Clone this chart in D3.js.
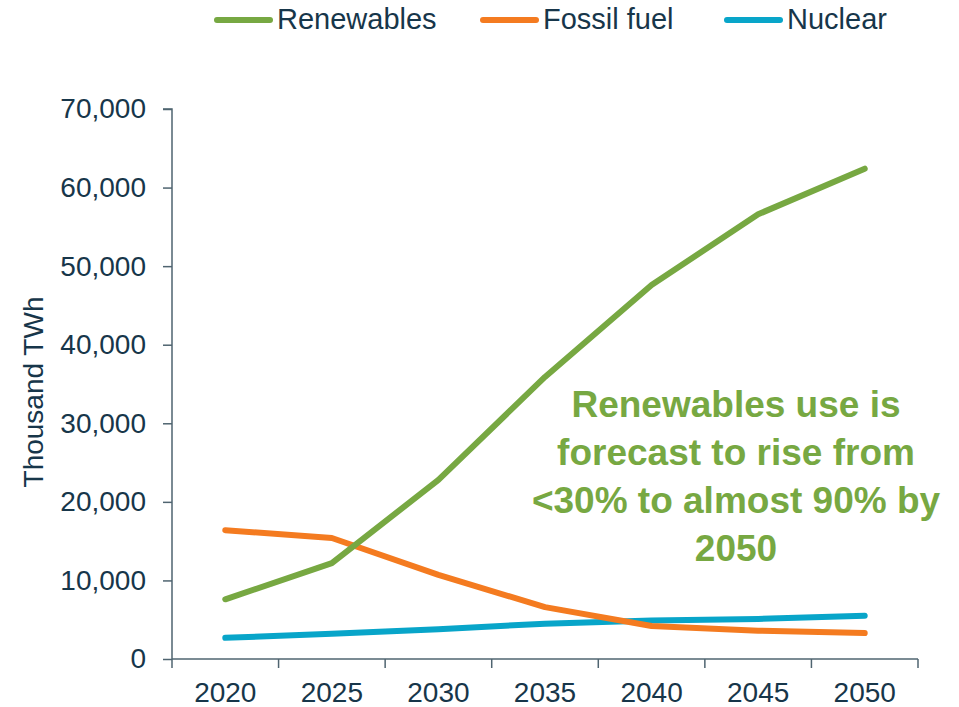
<!DOCTYPE html>
<html>
<head>
<meta charset="utf-8">
<script src="https://cdn.jsdelivr.net/npm/d3@7/dist/d3.min.js"></script>
<style>
  html, body { margin: 0; padding: 0; background: #fff; }
  svg { display: block; font-family: "Liberation Sans", Arial, sans-serif; }
</style>
</head>
<body>
<svg id="chart" width="959" height="707"></svg>
<script>
const years = ["2020", "2025", "2030", "2035", "2040", "2045", "2050"];
const renewables = [7600, 12200, 22800, 35900, 47600, 56600, 62400];
const fossilFuel = [16400, 15400, 10700, 6600, 4200, 3600, 3300];
const nuclear = [2700, 3200, 3800, 4500, 4900, 5100, 5500];
const yTicks = [0, 10000, 20000, 30000, 40000, 50000, 60000, 70000];
const seriesNames = ["Renewables", "Fossil fuel", "Nuclear"];
const seriesColors = ["#77a842", "#f47b20", "#08a5c9"];
const annotationLines = ["Renewables use is", "forecast to rise from", "<30% to almost 90% by", "2050"];
const yTitle = "Thousand TWh";

const textColor = "#17364a";
const axisColor = "#4f6470";

const svg = d3.select("#chart");
const margin = {left: 172, right: 41, top: 109, bottom: 48};
const W = 959, H = 707;

const x = d3.scaleBand().domain(years).range([margin.left, W - margin.right]);
const y = d3.scaleLinear().domain([0, 70000]).range([H - margin.bottom, margin.top]);

// Y axis
const yAxis = svg.append("g")
  .attr("transform", `translate(${margin.left},0)`)
  .call(d3.axisLeft(y).tickValues(yTicks).tickSize(9).tickPadding(17).tickFormat(d3.format(",")));
yAxis.selectAll("text").attr("font-size", 28).attr("fill", textColor)
  .attr("font-family", "Liberation Sans, Arial, sans-serif");
yAxis.selectAll("line").attr("stroke", axisColor).attr("stroke-width", 1.5);
yAxis.select(".domain").attr("stroke", axisColor).attr("stroke-width", 1.5)
  .attr("d", `M-9,${y(70000)}H0V${y(0)}`);

// X axis
const xAxis = svg.append("g")
  .attr("transform", `translate(0,${y(0)})`)
  .call(d3.axisBottom(x).tickSize(0).tickPadding(23));
xAxis.selectAll("text").attr("font-size", 28).attr("fill", textColor)
  .attr("font-family", "Liberation Sans, Arial, sans-serif");
xAxis.select(".domain").attr("stroke", axisColor).attr("stroke-width", 1.5)
  .attr("d", `M${margin.left},0H${W - margin.right}`);
// boundary tick marks between categories
const bounds = years.map(d => x(d)).concat([x(years[years.length - 1]) + x.bandwidth()]);
xAxis.selectAll("line.bound").data(bounds).enter().append("line")
  .attr("class", "bound")
  .attr("x1", d => d).attr("x2", d => d)
  .attr("y1", 0).attr("y2", 9)
  .attr("stroke", axisColor).attr("stroke-width", 1.5);

// Y title
svg.append("text")
  .attr("transform", `translate(43,${(y(0) + y(70000)) / 2 + 8}) rotate(-90)`)
  .attr("text-anchor", "middle")
  .attr("font-size", 28)
  .attr("fill", textColor)
  .text(yTitle);

// Lines
const allSeries = [renewables, fossilFuel, nuclear];
const line = d3.line()
  .x((d, i) => x(years[i]) + x.bandwidth() / 2)
  .y(d => y(d));
[2, 1, 0].forEach(k => {
  svg.append("path")
    .datum(allSeries[k])
    .attr("d", line)
    .attr("fill", "none")
    .attr("stroke", seriesColors[k])
    .attr("stroke-width", 6)
    .attr("stroke-linecap", "round")
    .attr("stroke-linejoin", "round");
});

// Legend
const legendX = [217, 483, 727];
const legend = svg.append("g");
seriesNames.forEach((name, i) => {
  const g = legend.append("g").attr("transform", `translate(${legendX[i]},0)`);
  g.append("line").attr("x1", 0).attr("x2", 53).attr("y1", 20).attr("y2", 20)
    .attr("stroke", seriesColors[i]).attr("stroke-width", 6).attr("stroke-linecap", "round");
  g.append("text").attr("x", 60).attr("y", 29)
    .attr("font-size", 29).attr("fill", textColor).text(name);
});

// Annotation
const ann = svg.append("text")
  .attr("text-anchor", "middle")
  .attr("font-size", 37)
  .attr("font-weight", "bold")
  .attr("fill", "#77a842");
annotationLines.forEach((t, i) => {
  ann.append("tspan").attr("x", 736).attr("y", 417 + i * 48).text(t);
});
</script>
</body>
</html>
